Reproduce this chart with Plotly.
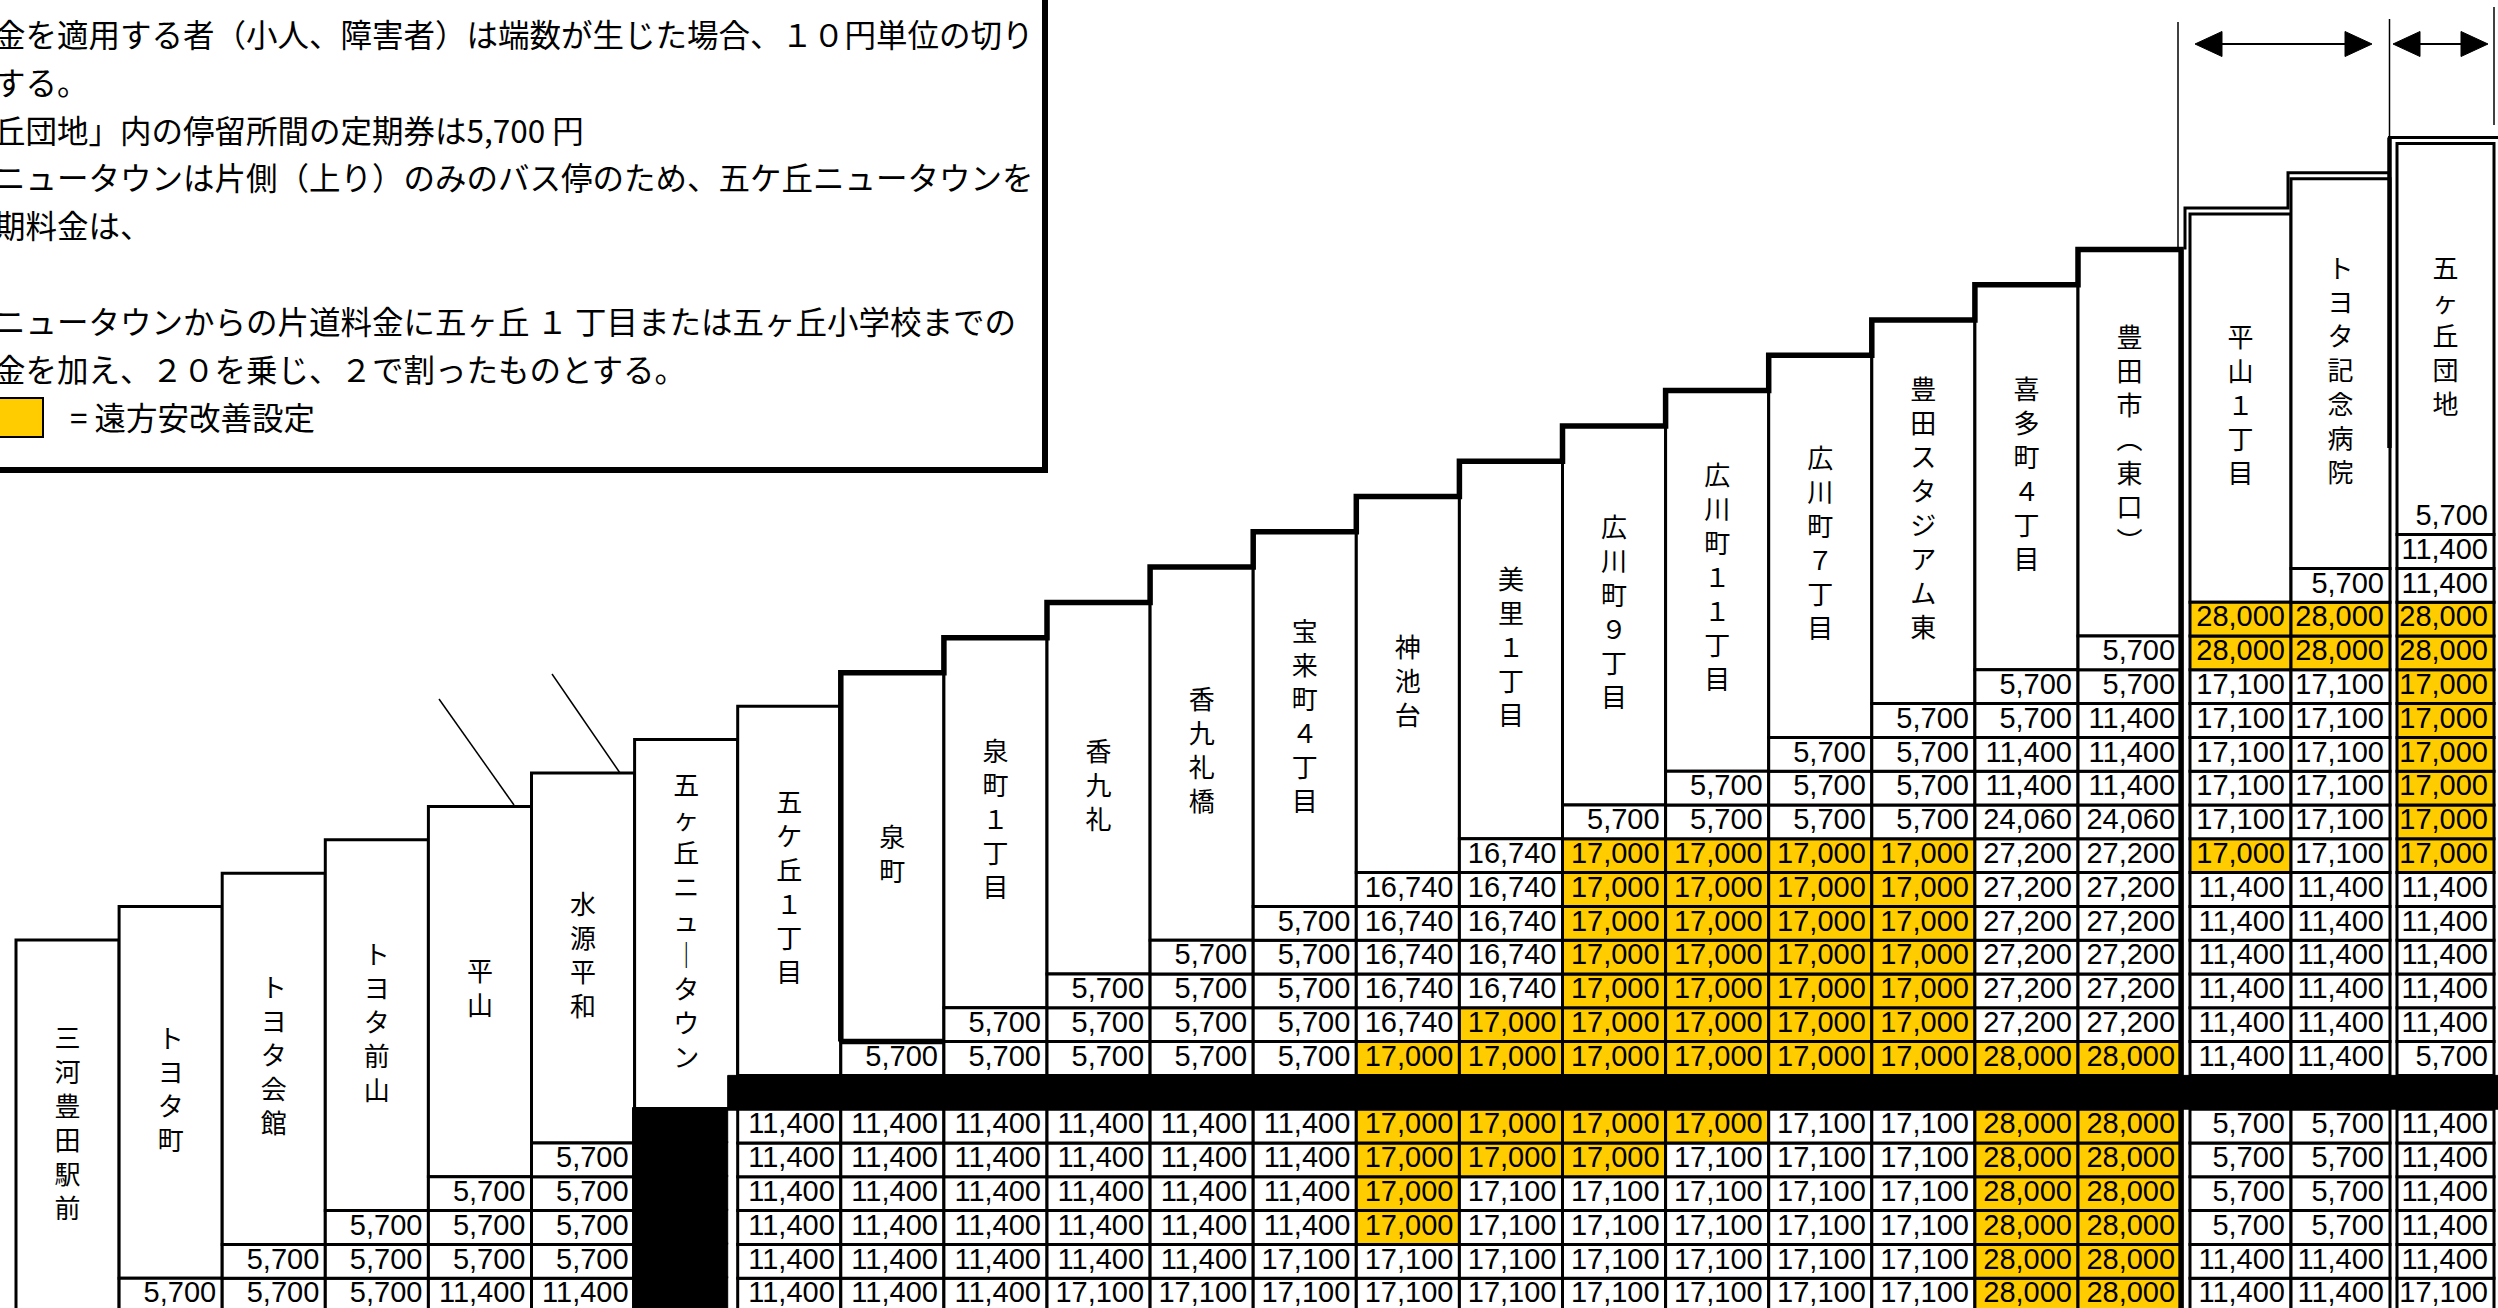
import plotly.graph_objects as go

# ---------------- data ----------------
STATIONS = ["三河豊田駅前", "トヨタ町", "トヨタ会館", "トヨタ前山", "平山", "水源平和",
            "五ヶ丘ニュータウン", "五ケ丘1丁目", "泉町", "泉町1丁目", "香九礼", "香九礼橋",
            "宝来町4丁目", "神池台", "美里1丁目", "広川町9丁目", "広川町11丁目", "広川町7丁目",
            "豊田スタジアム東", "喜多町4丁目", "豊田市(東口)", "平山1丁目", "トヨタ記念病院", "五ヶ丘団地"]

# FARES[j][k] : fare (yen) between stop j and stop k (k < j); None = no service (black)
FARES = [
    [],
    [5700],
    [5700, 5700],
    [5700, 5700, 5700],
    [11400, 5700, 5700, 5700],
    [11400, 5700, 5700, 5700, 5700],
    [None, None, None, None, None, None],
    [11400, 11400, 11400, 11400, 11400, 11400, None],
    [11400, 11400, 11400, 11400, 11400, 11400, None, 5700],
    [11400, 11400, 11400, 11400, 11400, 11400, None, 5700, 5700],
    [17100, 11400, 11400, 11400, 11400, 11400, None, 5700, 5700, 5700],
    [17100, 11400, 11400, 11400, 11400, 11400, None, 5700, 5700, 5700, 5700],
    [17100, 17100, 11400, 11400, 11400, 11400, None, 5700, 5700, 5700, 5700, 5700],
    [17100, 17100, 17000, 17000, 17000, 17000, None, 17000, 16740, 16740, 16740, 16740, 16740],
    [17100, 17100, 17100, 17100, 17000, 17000, None, 17000, 17000, 16740, 16740, 16740, 16740, 16740],
    [17100, 17100, 17100, 17100, 17000, 17000, None, 17000, 17000, 17000, 17000, 17000, 17000, 17000, 5700],
    [17100, 17100, 17100, 17100, 17100, 17000, None, 17000, 17000, 17000, 17000, 17000, 17000, 17000, 5700, 5700],
    [17100, 17100, 17100, 17100, 17100, 17100, None, 17000, 17000, 17000, 17000, 17000, 17000, 17000, 5700, 5700, 5700],
    [17100, 17100, 17100, 17100, 17100, 17100, None, 17000, 17000, 17000, 17000, 17000, 17000, 17000, 5700, 5700, 5700, 5700],
    [28000, 28000, 28000, 28000, 28000, 28000, None, 28000, 27200, 27200, 27200, 27200, 27200, 27200, 24060, 11400, 11400, 5700, 5700],
    [28000, 28000, 28000, 28000, 28000, 28000, None, 28000, 27200, 27200, 27200, 27200, 27200, 27200, 24060, 11400, 11400, 11400, 5700, 5700],
    [11400, 11400, 5700, 5700, 5700, 5700, None, 11400, 11400, 11400, 11400, 11400, 11400, 17000, 17100, 17100, 17100, 17100, 17100, 28000, 28000],
    [11400, 11400, 5700, 5700, 5700, 5700, None, 11400, 11400, 11400, 11400, 11400, 11400, 17100, 17100, 17100, 17100, 17100, 17100, 28000, 28000, 5700],
    [17100, 11400, 11400, 11400, 11400, 11400, None, 5700, 11400, 11400, 11400, 11400, 11400, 17000, 17000, 17000, 17000, 17000, 17000, 28000, 28000, 11400, 11400],
]
INNER_FARE_STOP = 23          # 五ヶ丘団地 loop
INNER_FARE = 5700             # fare between stops inside 五ヶ丘団地
HIGHLIGHT_FARES = [17000, 28000]   # 遠方安改善設定

NOTE_LINES = [
    "金を適用する者（小人、障害者）は端数が生じた場合、１０円単位の切り",
    "する。",
    "丘団地」内の停留所間の定期券は5,700 円",
    "ニュータウンは片側（上り）のみのバス停のため、五ケ丘ニュータウンを",
    "期料金は、",
    "",
    "ニュータウンからの片道料金に五ヶ丘 １ 丁目または五ヶ丘小学校までの",
    "金を加え、２０を乗じ、２で割ったものとする。",
]
LEGEND_TEXT = "= 遠方安改善設定"

# ---------------- layout constants (pixels of the 2498x1308 page) ----------------
W, H = 2498, 1308
X0, CW = 16.0, 103.1      # left of first column, column width
Y0, RH = 1312.0, 33.8     # bottom of the first row, row height
YELLOW = "#FFCC00"
JP = "Noto Sans CJK JP"
NUM = "Liberation Sans, Arial, sans-serif"


def dx(px):
    return (px - X0) / CW


def dy(py):
    return (Y0 - py) / RH


n = len(STATIONS)
col_left = [float(j) for j in range(21)] + [dx(2190), dx(2291), dx(2397)]
col_right = [float(j + 1) for j in range(21)] + [dx(2291), dx(2390), dx(2494)]


def header_top_px(j):
    return 940 - 33.4 * j if j <= 8 else 673 - 35.3 * (j - 8)


tops = [dy(header_top_px(j)) for j in range(n)]

shapes = []


def rect(x0, x1, y0, y1, fill="white", lw=3, color="black"):
    shapes.append(dict(type="rect", xref="x", yref="y", x0=x0, x1=x1, y0=y0, y1=y1,
                       fillcolor=fill, line=dict(color=color, width=lw), layer="below"))


def path(d, lw=3, fill=None):
    s = dict(type="path", xref="x", yref="y", path=d, line=dict(color="black", width=lw), layer="below")
    if fill:
        s["fillcolor"] = fill
    shapes.append(s)


def seg(x0, y0, x1, y1, lw=1.5):
    shapes.append(dict(type="line", xref="x", yref="y", x0=x0, y0=y0, x1=x1, y1=y1,
                       line=dict(color="black", width=lw), layer="below"))


# header boxes
for j in range(n):
    rect(col_left[j], col_right[j], j, tops[j])

# fare cells
num_x, num_y, num_t = [], [], []
pad = 6 / CW
for j in range(n):
    for k, v in enumerate(FARES[j]):
        if v is None:
            continue
        fill = YELLOW if v in HIGHLIGHT_FARES else "white"
        rect(col_left[j], col_right[j], k, k + 1, fill=fill)
        num_x.append(col_right[j] - pad)
        num_y.append(k + 0.5)
        num_t.append(f"{v:,}")
num_x.append(col_right[INNER_FARE_STOP] - pad)
num_y.append(INNER_FARE_STOP + 0.5)
num_t.append(f"{INNER_FARE:,}")

# no-service (black) runs, one per row
rows = max(len(f) for f in FARES)
shift = 10 / CW
for k in range(rows):
    cols = [j for j in range(n) if k < len(FARES[j]) and FARES[j][k] is None]
    if cols:
        if len(cols) == 1:
            rect(col_left[cols[0]] - 0.02, col_right[cols[0]] - shift, k, k + 1.05, fill="black", lw=1)
        else:
            rect(col_left[min(cols)] - shift, col_right[max(cols)] + 0.1, k, k + 1, fill="black", lw=1)

# thick staircase (泉町 .. 豊田市)
d = f"M {col_left[8]},{8} L {col_left[8]},{tops[8]}"
for j in range(8, 21):
    d += f" L {col_right[j]},{tops[j]}"
    if j < 20:
        d += f" L {col_right[j]},{tops[j + 1]}"
d += f" L {col_right[20]},{dy(1330)}"
path(d, lw=5.5)
seg(col_left[8], 8, col_right[8], 8, lw=5.5)

# outer double line around 平山1丁目 .. 五ヶ丘団地
o = 6 / RH
d = (f"M {dx(2185)},{tops[20]} L {dx(2185)},{tops[21] + o} L {dx(2288)},{tops[21] + o}"
     f" L {dx(2288)},{tops[22] + o} L {dx(2389.5)},{tops[22] + o} L {dx(2389.5)},{tops[23] + o}"
     f" L {dx(2520)},{tops[23] + o}")
path(d, lw=3)
seg(dx(2389.5), tops[23] + o, dx(2389.5), dy(448), lw=4.5)

# range markers and arrows (top right)
seg(dx(2178), dy(22), dx(2178), tops[20], lw=1.5)
seg(dx(2389.5), dy(19), dx(2389.5), tops[23] + o, lw=1.5)
seg(dx(2494), dy(7), dx(2494), dy(125), lw=1.5)
ay = dy(44)
hl, hw = 27 / CW, 12.5 / RH
for xa, xb in [(dx(2195), dx(2372)), (dx(2393), dx(2488))]:
    seg(xa + hl * 0.8, ay, xb - hl * 0.8, ay, lw=2)
    path(f"M {xa},{ay} L {xa + hl},{ay + hw} L {xa + hl},{ay - hw} Z", lw=1, fill="black")
    path(f"M {xb},{ay} L {xb - hl},{ay + hw} L {xb - hl},{ay - hw} Z", lw=1, fill="black")

# leader lines
seg(dx(439), dy(699), dx(514), dy(805), lw=1.5)
seg(dx(552), dy(674), dx(620), dy(773), lw=1.5)

# notes box and legend swatch
rect(dx(-20), dx(1045), dy(470), dy(-20), fill="rgba(0,0,0,0)", lw=6)
rect(dx(-3), dx(43), dy(437), dy(398), fill=YELLOW, lw=2)

# vertical station labels
VMAP = {"ー": "｜", "(": "︵", ")": "︶"}
FW = {str(i): chr(0xFF10 + i) for i in range(10)}
lab_x, lab_y, lab_t = [], [], []
pitch = 34 / RH
for j, name in enumerate(STATIONS):
    chars = [VMAP.get(c, FW.get(c, c)) for c in name]
    bottom = 0 if j == 0 else j
    yc = (bottom + tops[j]) / 2
    m = len(chars)
    for i, c in enumerate(chars):
        lab_x.append((col_left[j] + col_right[j]) / 2)
        lab_y.append(yc + ((m - 1) / 2 - i) * pitch)
        lab_t.append(c)

fig = go.Figure()
fig.add_trace(go.Scatter(x=num_x, y=num_y, text=num_t, mode="text", textposition="middle left",
                         textfont=dict(family=NUM, size=29, color="black"), hoverinfo="skip",
                         showlegend=False))
fig.add_trace(go.Scatter(x=lab_x, y=lab_y, text=lab_t, mode="text", textposition="middle center",
                         textfont=dict(family=JP, size=26, color="black"), hoverinfo="skip",
                         showlegend=False))

annotations = []
note_y = [33, 81, 129, 176, 224, 272, 320, 368]
for t, yy in zip(NOTE_LINES, note_y):
    if not t:
        continue
    annotations.append(dict(text=t, xref="paper", yref="paper", x=-8 / W, y=1 - yy / H,
                            xanchor="left", yanchor="middle", showarrow=False,
                            font=dict(family=JP, size=31.5, color="black")))
annotations.append(dict(text=LEGEND_TEXT, xref="paper", yref="paper", x=68 / W, y=1 - 416 / H,
                        xanchor="left", yanchor="middle", showarrow=False,
                        font=dict(family=JP, size=31.5, color="black")))

fig.update_layout(
    width=W, height=H, margin=dict(l=0, r=0, t=0, b=0, pad=0),
    paper_bgcolor="white", plot_bgcolor="white",
    xaxis=dict(range=[dx(0), dx(W)], visible=False, fixedrange=True),
    yaxis=dict(range=[dy(H), dy(0)], visible=False, fixedrange=True),
    shapes=shapes, annotations=annotations, showlegend=False,
)

fig.write_html("out.html", config={"displayModeBar": False},
               post_script="document.body.style.margin='0';document.body.style.overflow='hidden';")
